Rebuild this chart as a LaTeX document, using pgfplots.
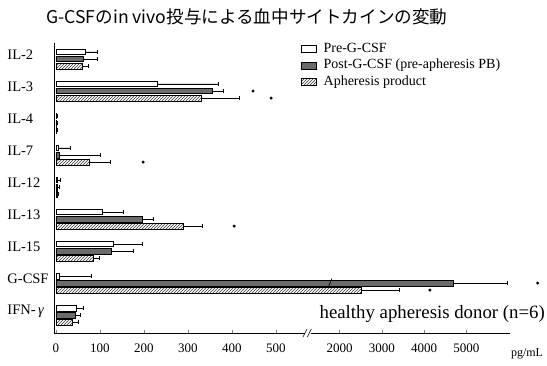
\documentclass[border=0pt]{standalone}
\usepackage{pgfplots}
\pgfplotsset{compat=1.18}
\usepackage{fontspec}
\setmainfont{Liberation Serif}
\newfontfamily\cjk{Noto Sans CJK JP}
\usetikzlibrary{patterns}
\begin{document}
\begin{tikzpicture}
\useasboundingbox (-54pt,-32pt) rectangle (493pt,333pt);
% x values above the break are mapped: t = 645 + (v-2000)*0.096 (pg/mL)
\begin{axis}[
  scale only axis, width=456pt, height=290pt,
  xmin=-4.5, xmax=1032, ymin=-0.5, ymax=8.56, y dir=reverse,
  axis x line=bottom, axis y line=left,
  axis line style={-, line width=0.6pt},
  xtick={0,100,200,300,400,500,645,741,837,933},
  xticklabels={\textrm{0},\textrm{100},\textrm{200},\textrm{300},\textrm{400},\textrm{500},\textrm{2000},\textrm{3000},\textrm{4000},\textrm{5000}},
  xticklabel style={yshift=-7pt, font=\fontsize{13}{15}\selectfont},
  x tick style={line width=0.5pt}, major tick length=3pt, tick align=inside,
  ytick={0,...,8},
  yticklabels={\makebox[40pt][l]{IL-2},\makebox[40pt][l]{IL-3},\makebox[40pt][l]{IL-4},\makebox[40pt][l]{IL-7},\makebox[40pt][l]{IL-12},\makebox[40pt][l]{IL-13},\makebox[40pt][l]{IL-15},\makebox[40pt][l]{G-CSF},\makebox[40pt][l]{IFN-\,\textit{γ}}},
  y tick style={draw=none},
  yticklabel style={yshift=4pt, font=\fontsize{14.5}{16}\selectfont},
  /pgf/number format/assume math mode=true,
  clip=false,
  xbar, bar width=0.17,
  error bars/error bar style={line width=0.5pt, black},
  legend style={at={(0.535,1.015)}, anchor=north west, draw=none, fill=none,
    font=\fontsize{14}{16}\selectfont, row sep=0pt,
    nodes={inner sep=2pt, text height=9.5pt, text depth=3pt},
    /tikz/every odd column/.append style={column sep=5pt}},
  legend cell align=left,
  legend image code/.code={\draw[#1, line width=0.5pt] (0pt,-3.5pt) rectangle (15pt,3.5pt);},
]
% Pre-G-CSF
\addplot[bar shift=0pt, draw=black, line width=0.5pt, fill=white,
  error bars/.cd, x dir=plus, x explicit, error mark options={rotate=90, mark size=2pt}]
  coordinates {
  (66,-0.22) +- (27,0)
  (230,0.78) +- (138,0)
  (1,1.78) +- (1,0)
  (5,2.78) +- (27,0)
  (4,3.78) +- (6,0)
  (105,4.78) +- (47,0)
  (130,5.78) +- (65,0)
  (8,6.78) +- (71,0)
  (45,7.78) +- (16,0)
  };
\addlegendentry{Pre-G-CSF}
% Post-G-CSF (G-CSF value ~4680 pg/mL, error to ~5880)
\addplot[bar shift=0pt, draw=black, line width=0.5pt, fill=black!58,
  error bars/.cd, x dir=plus, x explicit, error mark options={rotate=90, mark size=2pt}]
  coordinates {
  (61,0) +- (32,0)
  (355,1) +- (25,0)
  (1,2) +- (1,0)
  (8,3) +- (92,0)
  (3,4) +- (5,0)
  (195,5) +- (25,0)
  (125,6) +- (50,0)
  (902,7) +- (123,0)
  (43,8) +- (12,0)
  };
\addlegendentry{Post-G-CSF (pre-apheresis PB)}
% Apheresis product (G-CSF value ~2520 pg/mL, error to ~3410)
\addplot[bar shift=0pt, draw=black, line width=0.5pt, fill=white,
  pattern=north east lines, pattern color=black!80,
  error bars/.cd, x dir=plus, x explicit, error mark options={rotate=90, mark size=2pt}]
  coordinates {
  (59,0.22) +- (14,0)
  (330,1.22) +- (86,0)
  (1,2.22) +- (1,0)
  (75,3.22) +- (48,0)
  (2,4.22) +- (4,0)
  (289,5.22) +- (43,0)
  (84,6.22) +- (14,0)
  (695,7.22) +- (85,0)
  (36,8.22) +- (14,0)
  };
\addlegendentry{Apheresis product}
% outliers
\addplot[only marks, mark=*, mark size=1.3pt, black, forget plot]
  coordinates {(448,1) (489,1.22) (198,3.22) (405,5.22) (1095,7) (850,7.22)};
% axis break marks
\draw[white, line width=3pt] (axis cs:566,8.56) -- (axis cs:580,8.56);
\draw[line width=0.6pt] (axis cs:566,8.56) ++(-2pt,-4pt) -- ++(4pt,8pt);
\draw[line width=0.6pt] (axis cs:576,8.56) ++(-2pt,-4pt) -- ++(4pt,8pt);
\draw[line width=0.7pt] (axis cs:619,7.13) -- (axis cs:627,6.86);
\end{axis}
\node[font=\cjk\fontsize{17.6}{20}\selectfont] at (193pt,316pt) {G-CSFのin vivo投与による血中サイトカインの変動};
\node[anchor=base east, font=\fontsize{18.8}{20}\selectfont, inner sep=0pt] at (491pt,15pt) {healthy apheresis donor (n=6)};
\node[anchor=base, font=\fontsize{12}{14}\selectfont, inner sep=0pt] at (473pt,-23.5pt) {pg/mL};
\end{tikzpicture}
\end{document}
